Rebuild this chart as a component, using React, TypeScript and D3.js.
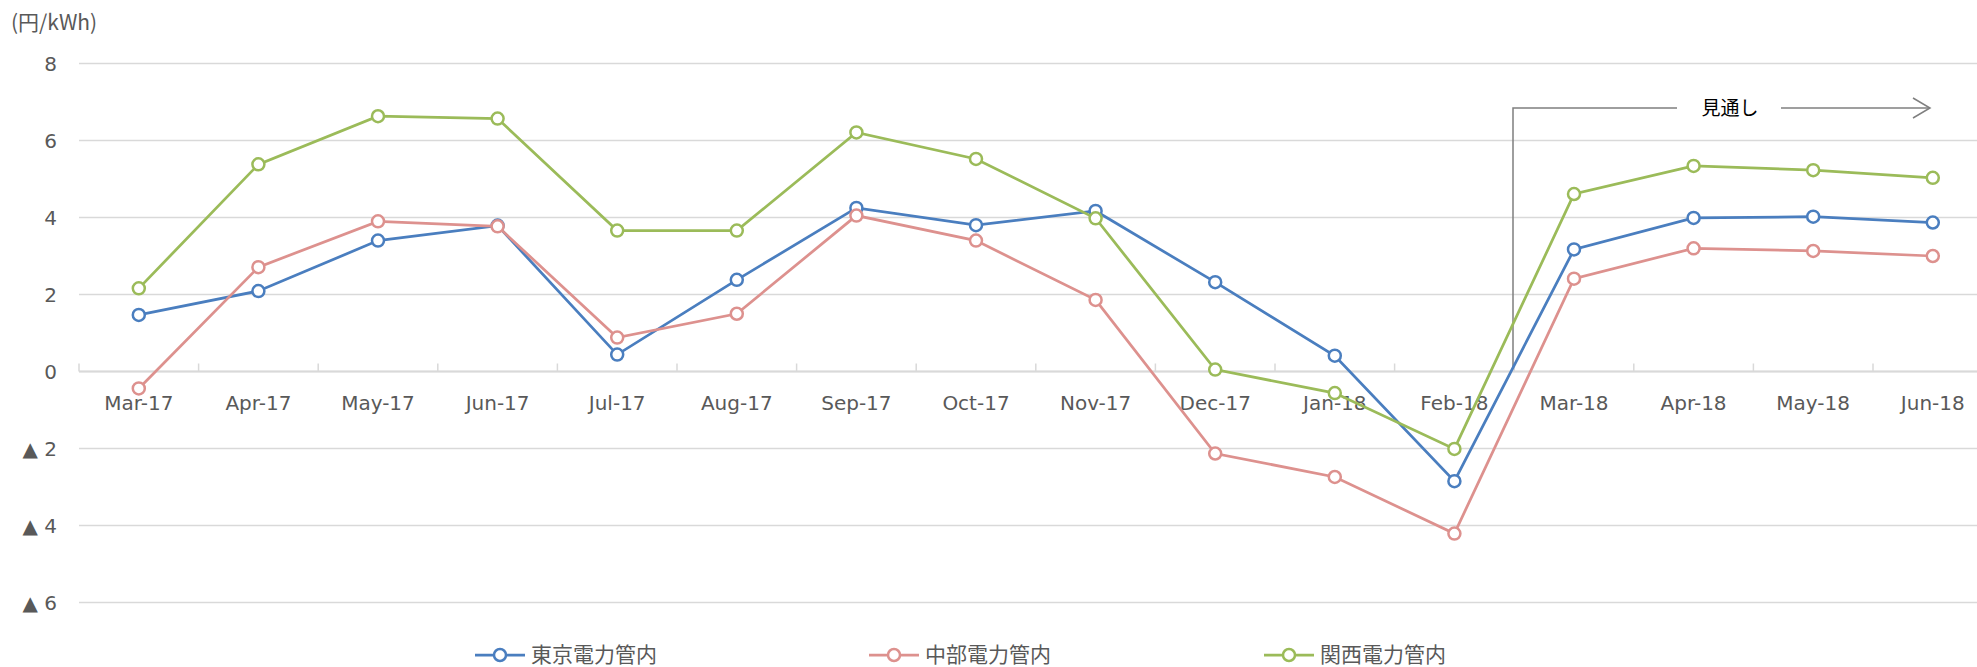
import * as d3 from 'd3';

const months = [
  'Mar-17', 'Apr-17', 'May-17', 'Jun-17', 'Jul-17', 'Aug-17', 'Sep-17', 'Oct-17',
  'Nov-17', 'Dec-17', 'Jan-18', 'Feb-18', 'Mar-18', 'Apr-18', 'May-18', 'Jun-18',
];

const tokyo = [1.47, 2.09, 3.4, 3.79, 0.44, 2.38, 4.25, 3.8, 4.17, 2.32, 0.41, -2.85, 3.17, 3.99, 4.02, 3.87];
const chubu = [-0.44, 2.71, 3.9, 3.77, 0.88, 1.5, 4.05, 3.4, 1.86, -2.13, -2.74, -4.21, 2.41, 3.2, 3.13, 3.0];
const kansai = [2.16, 5.38, 6.63, 6.57, 3.66, 3.66, 6.21, 5.52, 3.98, 0.05, -0.56, -2.01, 4.61, 5.34, 5.23, 5.03];

const seriesNames = ['東京電力管内', '中部電力管内', '関西電力管内'];
const seriesColors = ['#4a7ebf', '#dd918e', '#9bbb59'];
const yTicks = [8, 6, 4, 2, 0, -2, -4, -6];

const W = 1977;
const H = 667;
const font = '"DejaVu Sans", "Noto Sans CJK JP", sans-serif';

export default function App() {
  const x = d3.scaleBand<string>().domain(months).range([79, 79 + 16 * 119.6]);
  const y = d3.scaleLinear().domain([-6, 8]).range([602.5, 63.5]);
  const cx = (m: string) => (x(m) ?? 0) + x.bandwidth() / 2;

  const line = d3
    .line<number>()
    .x((_, i) => cx(months[i]))
    .y((d) => y(d));

  const series = [tokyo, chubu, kansai];
  const legendX = [500, 894, 1289];
  const legendY = 655;
  const y0 = y(0);

  return (
    <svg
      width={W}
      height={H}
      style={{ position: 'absolute', left: 0, top: 0, background: '#fff' }}
      fontFamily={font}
    >
      <text x={11} y={30} fontSize={21} fill="#595959" fontFamily='"Noto Sans CJK JP", sans-serif'>(円/kWh)</text>

      {yTicks.map((t) => (
        <g key={t}>
          <line x1={79} x2={W} y1={y(t)} y2={y(t)} stroke="#d9d9d9" strokeWidth={1.5} />
          <text x={57} y={y(t)} dy="0.36em" textAnchor="end" fontSize={20} fill="#595959">
            {t < 0 ? `▲ ${-t}` : `${t}`}
          </text>
        </g>
      ))}

      {months.map((m) => (
        <line key={'t' + m} x1={x(m)} x2={x(m)} y1={y0} y2={y0 - 8} stroke="#d9d9d9" strokeWidth={1.5} />
      ))}
      <line x1={79} x2={W} y1={y0} y2={y0} stroke="#d9d9d9" strokeWidth={2} />

      {months.map((m) => (
        <text key={'l' + m} x={cx(m)} y={403} dy="0.36em" textAnchor="middle" fontSize={20} fill="#595959">
          {m}
        </text>
      ))}

      {/* 見通し bracket */}
      <g stroke="#7f7f7f" strokeWidth={1.5} fill="none">
        <polyline points={`1513,368 1513,108 1677,108`} />
        <line x1={1781} x2={1930} y1={108} y2={108} />
        <polyline points={`1913,98 1930,108 1913,118`} />
      </g>
      <text x={1730} y={108} dy="0.36em" textAnchor="middle" fontSize={19} fill="#000">見通し</text>

      {series.map((s, k) => (
        <g key={seriesNames[k]}>
          <path d={line(s) ?? ''} fill="none" stroke={seriesColors[k]} strokeWidth={2.75} />
          {s.map((v, i) => (
            <circle key={i} cx={cx(months[i])} cy={y(v)} r={6} fill="#fff" stroke={seriesColors[k]} strokeWidth={2.5} />
          ))}
        </g>
      ))}

      {seriesNames.map((n, k) => (
        <g key={'lg' + n}>
          <line x1={legendX[k] - 25} x2={legendX[k] + 25} y1={legendY} y2={legendY} stroke={seriesColors[k]} strokeWidth={2.75} />
          <circle cx={legendX[k]} cy={legendY} r={6} fill="#fff" stroke={seriesColors[k]} strokeWidth={2.5} />
          <text x={legendX[k] + 31} y={legendY} dy="0.34em" fontSize={21} fill="#595959" fontFamily='"Noto Sans CJK JP", sans-serif'>
            {n}
          </text>
        </g>
      ))}
    </svg>
  );
}
